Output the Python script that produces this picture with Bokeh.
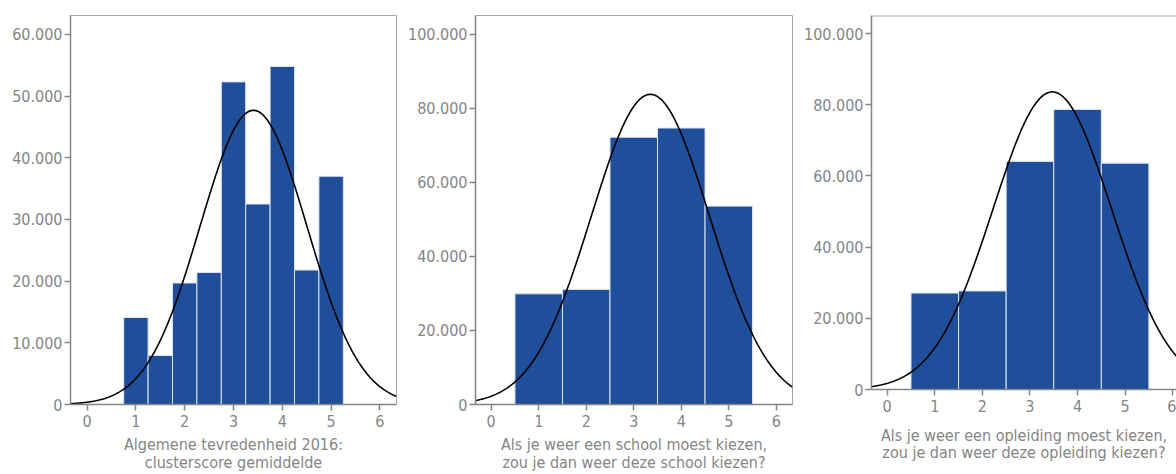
import numpy as np
from bokeh.plotting import figure
from bokeh.layouts import row
from bokeh.models import FixedTicker, Span
from bokeh.embed import file_html
from bokeh.resources import INLINE

# ---- data ----
x_ticks = [0, 1, 2, 3, 4, 5, 6]

p1_centers = [1.0, 1.5, 2.0, 2.5, 3.0, 3.5, 4.0, 4.5, 5.0]
p1_counts = [14100, 7950, 19700, 21400, 52300, 32500, 54800, 21800, 37000]
p1_bin = 0.5
p1_mean, p1_sd = 3.41, 1.094
p1_yticks = [0, 10000, 20000, 30000, 40000, 50000, 60000]
p1_ylabels = ["0", "10.000", "20.000", "30.000", "40.000", "50.000", "60.000"]
p1_title = "Algemene tevredenheid 2016:\nclusterscore gemiddelde"

p2_centers = [1, 2, 3, 4, 5]
p2_counts = [29900, 31100, 72200, 74700, 53600]
p2_bin = 1.0
p2_mean, p2_sd = 3.35, 1.245
p2_yticks = [0, 20000, 40000, 60000, 80000, 100000]
p2_ylabels = ["0", "20.000", "40.000", "60.000", "80.000", "100.000"]
p2_title = "Als je weer een school moest kiezen,\nzou je dan weer deze school kiezen?"

p3_centers = [1, 2, 3, 4, 5]
p3_counts = [27100, 27700, 64100, 78700, 63600]
p3_bin = 1.0
p3_mean, p3_sd = 3.47, 1.246
p3_yticks = p2_yticks
p3_ylabels = p2_ylabels
p3_title = "Als je weer een opleiding moest kiezen,\nzou je dan weer deze opleiding kiezen?"

BAR = "#1f4e9a"
EDGE = "#dce4f0"
GREY = "#858585"
FONT = "DejaVu Sans Condensed"


def panel(centers, counts, binw, mean, sd, yticks, ylabels, title,
          width, height, bl, br, bb, xr, yr, title_standoff, title_lh,
          outline=True):
    p = figure(width=width, height=height, x_range=xr, y_range=yr,
               output_backend="svg", toolbar_location=None,
               min_border_left=bl, min_border_right=br, min_border_top=15,
               min_border_bottom=bb, frame_align=False)
    p.grid.visible = False
    p.background_fill_color = "white"
    p.border_fill_color = "white"
    if outline:
        p.outline_line_color = "#a8a8a8"
        p.outline_line_width = 1
    else:
        p.outline_line_color = None
        p.add_layout(Span(location=yr[1], dimension="width",
                          line_color="#a8a8a8", line_width=2))

    p.vbar(x=centers, top=counts, width=binw, bottom=0,
           fill_color=BAR, line_color=EDGE, line_width=1)

    n = sum(counts)
    xs = np.linspace(xr[0], xr[1], 400)
    ys = n * binw * np.exp(-0.5 * ((xs - mean) / sd) ** 2) / (sd * np.sqrt(2 * np.pi))
    p.line(xs, ys, line_color="black", line_width=1.6)

    xa = p.below[0]
    ya = p.left[0]
    xa.ticker = FixedTicker(ticks=x_ticks)
    ya.ticker = FixedTicker(ticks=yticks)
    ya.major_label_overrides = {t: l for t, l in zip(yticks, ylabels)}
    for ax in (xa, ya):
        ax.axis_line_color = GREY
        ax.axis_line_width = 1.5
        ax.major_tick_line_color = GREY
        ax.major_tick_line_width = 1.5
        ax.major_tick_out = 6
        ax.major_tick_in = 0
        ax.minor_tick_line_color = None
        ax.major_label_text_color = GREY
        ax.major_label_text_font = FONT
        ax.major_label_text_font_size = "16px"
    ya.major_label_standoff = 2
    xa.major_label_standoff = 4
    xa.axis_label = title
    xa.axis_label_text_font = FONT
    xa.axis_label_text_font_size = "16px"
    xa.axis_label_text_font_style = "normal"
    xa.axis_label_text_color = GREY
    xa.axis_label_text_line_height = title_lh
    xa.axis_label_standoff = title_standoff
    return p


p1 = panel(p1_centers, p1_counts, p1_bin, p1_mean, p1_sd, p1_yticks, p1_ylabels,
           p1_title, 400, 474, 70, 4, 68, (-0.34, 6.34), (0, 63060), 5, 0.95)
p2 = panel(p2_centers, p2_counts, p2_bin, p2_mean, p2_sd, p2_yticks, p2_ylabels,
           p2_title, 400, 474, 75, 8, 68, (-0.33, 6.34), (0, 105100), 5, 0.95)
p3 = panel(p3_centers, p3_counts, p3_bin, p3_mean, p3_sd, p3_yticks, p3_ylabels,
           p3_title, 376, 474, 71, 0, 85, (-0.33, 6.08), (0, 105100), 11, 0.9,
           outline=False)

layout = row(p1, p2, p3)
open("out.html", "w").write(file_html(layout, INLINE))
